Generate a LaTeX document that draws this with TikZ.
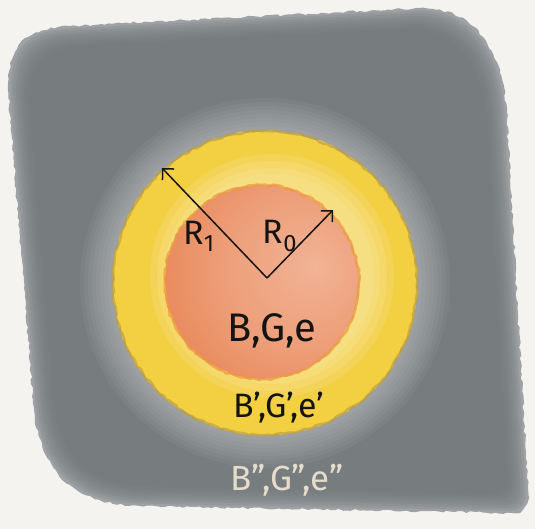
\documentclass[tikz,border=0pt]{standalone}
\usepackage{fontspec}
\setmainfont{Fira Sans}
\usetikzlibrary{arrows.meta,decorations.pathmorphing,shadings}
\definecolor{paper}{HTML}{F4F3EF}
\definecolor{slate}{HTML}{74797C}
\definecolor{slatelight}{HTML}{9EA2A4}
\definecolor{yel}{HTML}{F3CF42}
\definecolor{yellight}{HTML}{FAECB0}
\definecolor{olive}{HTML}{BFA040}
\definecolor{ora}{HTML}{E7804F}
\definecolor{oralight}{HTML}{F3BCA2}
\definecolor{orarim}{HTML}{EC9A3F}
\definecolor{chalk}{HTML}{E6DCCB}
\definecolor{ink}{HTML}{141414}
\pgfdeclareradialshading{orashade}{\pgfpoint{14bp}{4bp}}{color(0bp)=(oralight!85!ora);color(20bp)=(oralight!50!ora);color(40bp)=(ora);color(70bp)=(ora)}
\tikzset{
  rough/.style={decorate,decoration={random steps,segment length=4pt,amplitude=1.1pt}},
  lbl/.style={inner sep=0pt,text=ink},
  arr/.style={draw=ink,line width=1.5bp,-{Straight Barb[length=8bp,width=16bp,line width=1.5bp]}},
}
\newcommand{\grayblob}{(8,90) -- (33,400) .. controls (38,470) and (70,504) .. (140,506) -- (512,513) .. controls (525,513) and (529,505) .. (528,490) -- (507,120) .. controls (505,50) and (475,8) .. (420,8) -- (70,26) .. controls (25,28) and (8,45) .. (8,90) -- cycle}
\begin{document}
\begin{tikzpicture}[x=1bp,y=-1bp]
\fill[paper] (0,0) rectangle (535,529);
\useasboundingbox (0,0) rectangle (535,529);
% gray square with lighter edges
\fill[slatelight,rough] \grayblob;
\foreach \s in {0.99,0.98,0.97,0.96,0.95,0.94,0.93,0.92}{
  \begin{scope}[scale around={\s:(270,265)}]
    \fill[slate,opacity=0.22] \grayblob;
  \end{scope}
}
% halo around the yellow shell
\foreach \r in {185,181,177,173,169,165,161,157}{
  \fill[white,opacity=0.045] (265,283) circle[radius=\r];
}
% yellow shell
\fill[yel,rough] (265,283) circle[radius=152];
\begin{scope}
  \clip (265,283) circle[radius=150];
  \foreach \r in {122,115,108,102}{
    \fill[yellight,opacity=0.2] (272,276) circle[radius=\r];
  }
\end{scope}
\draw[olive,line width=2.5bp,opacity=0.7,rough] (265,283) circle[radius=152];
% orange core
\shade[shading=orashade,rough] (262,282) circle[radius=97];
\draw[orarim,line width=2.5bp,opacity=0.75,rough] (262,282) circle[radius=97];
% radii
\coordinate (o) at (267,278);
\coordinate (t1) at (162,168);
\coordinate (t0) at (333,210);
\draw[arr] (o) -- (t1);
\draw[arr] (o) -- (t0);
% labels
\node[lbl,font=\fontsize{34}{34}\selectfont] (r1) at (199,236) {R\textsubscript{1}};
\node[lbl,font=\fontsize{34}{34}\selectfont] (r0) at (280,236) {R\textsubscript{0}};
\node[lbl,font=\fontsize{40}{40}\selectfont] (core) at (272,331) {B,G,e};
\node[lbl,font=\fontsize{34}{34}\selectfont] (shell) at (279,408) {B',G',e'};
\node[lbl,text=chalk,font=\fontsize{35}{35}\selectfont] (out) at (287,480) {B'',G'',e''};
\end{tikzpicture}
\end{document}
